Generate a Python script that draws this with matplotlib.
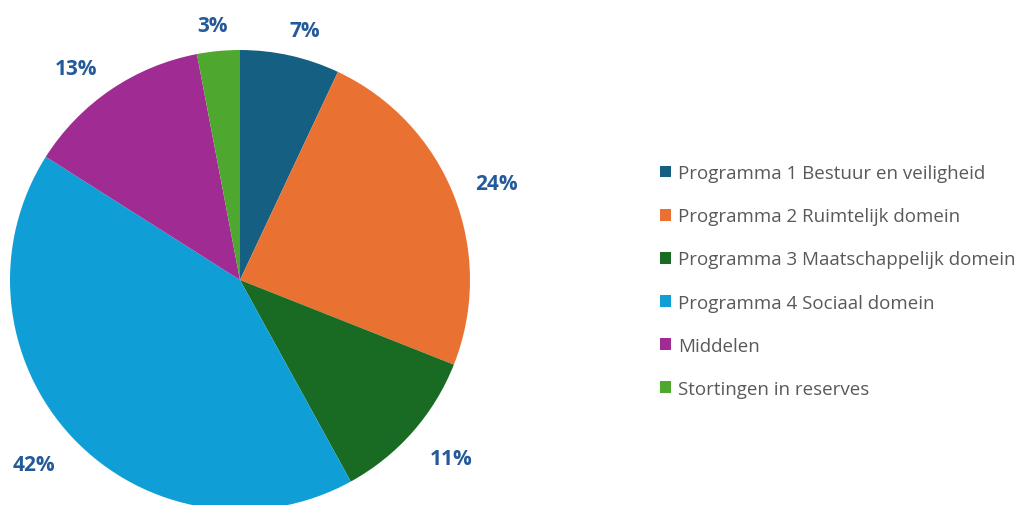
import matplotlib
matplotlib.use('Agg')
import matplotlib.pyplot as plt
import numpy as np

categorieen = ['Programma 1 Bestuur en veiligheid', 'Programma 2 Ruimtelijk domein',
               'Programma 3 Maatschappelijk domein', 'Programma 4 Sociaal domein',
               'Middelen', 'Stortingen in reserves']
percentages = [7, 24, 11, 42, 13, 3]
kleuren = ['#156082', '#E97132', '#196B24', '#0F9ED5', '#A02B93', '#4EA72E']

LABEL_KLEUR = '#24599A'
TEKST_KLEUR = '#595959'

fig = plt.figure(figsize=(10.27, 5.06), dpi=100)
ax = fig.add_axes([0, 0, 1, 1])
ax.set_aspect('equal')
ax.axis('off')

cx, cy, straal = 240, 225, 230
wedges, _ = ax.pie(
    percentages, colors=kleuren, startangle=90, counterclock=False,
    center=(cx, cy), radius=straal, wedgeprops={'linewidth': 0})
ax.set_xlim(0, 1027)
ax.set_ylim(0, 506)

# labels buiten de taart, zoals "buiten einde" in Excel
for w, p in zip(wedges, percentages):
    hoek = np.deg2rad((w.theta1 + w.theta2) / 2)
    ux, uy = np.cos(hoek), np.sin(hoek)
    tekst = f'{p}%'
    half_b = 7.5 * len(tekst)
    half_h = 7.5
    ax_x = cx + (straal + 22) * ux + half_b * np.clip(3 * ux, -1, 1)
    ax_y = cy + (straal + 22) * uy + half_h * np.clip(3 * uy, -1, 1) - 4
    ax.text(ax_x, ax_y, tekst, ha='center', va='center', color=LABEL_KLEUR,
            fontsize=15, fontweight='bold', family='Open Sans', clip_on=False)

ax.legend(wedges, categorieen, loc='upper left', bbox_to_anchor=(0.626, 0.707),
          frameon=False, handlelength=0.6, handleheight=0.6,
          handletextpad=0.37, labelspacing=1.34, labelcolor=TEKST_KLEUR,
          prop={'family': 'Open Sans', 'size': 13.5})

fig.savefig('out.png', dpi=100, facecolor='white')
plt.close(fig)
